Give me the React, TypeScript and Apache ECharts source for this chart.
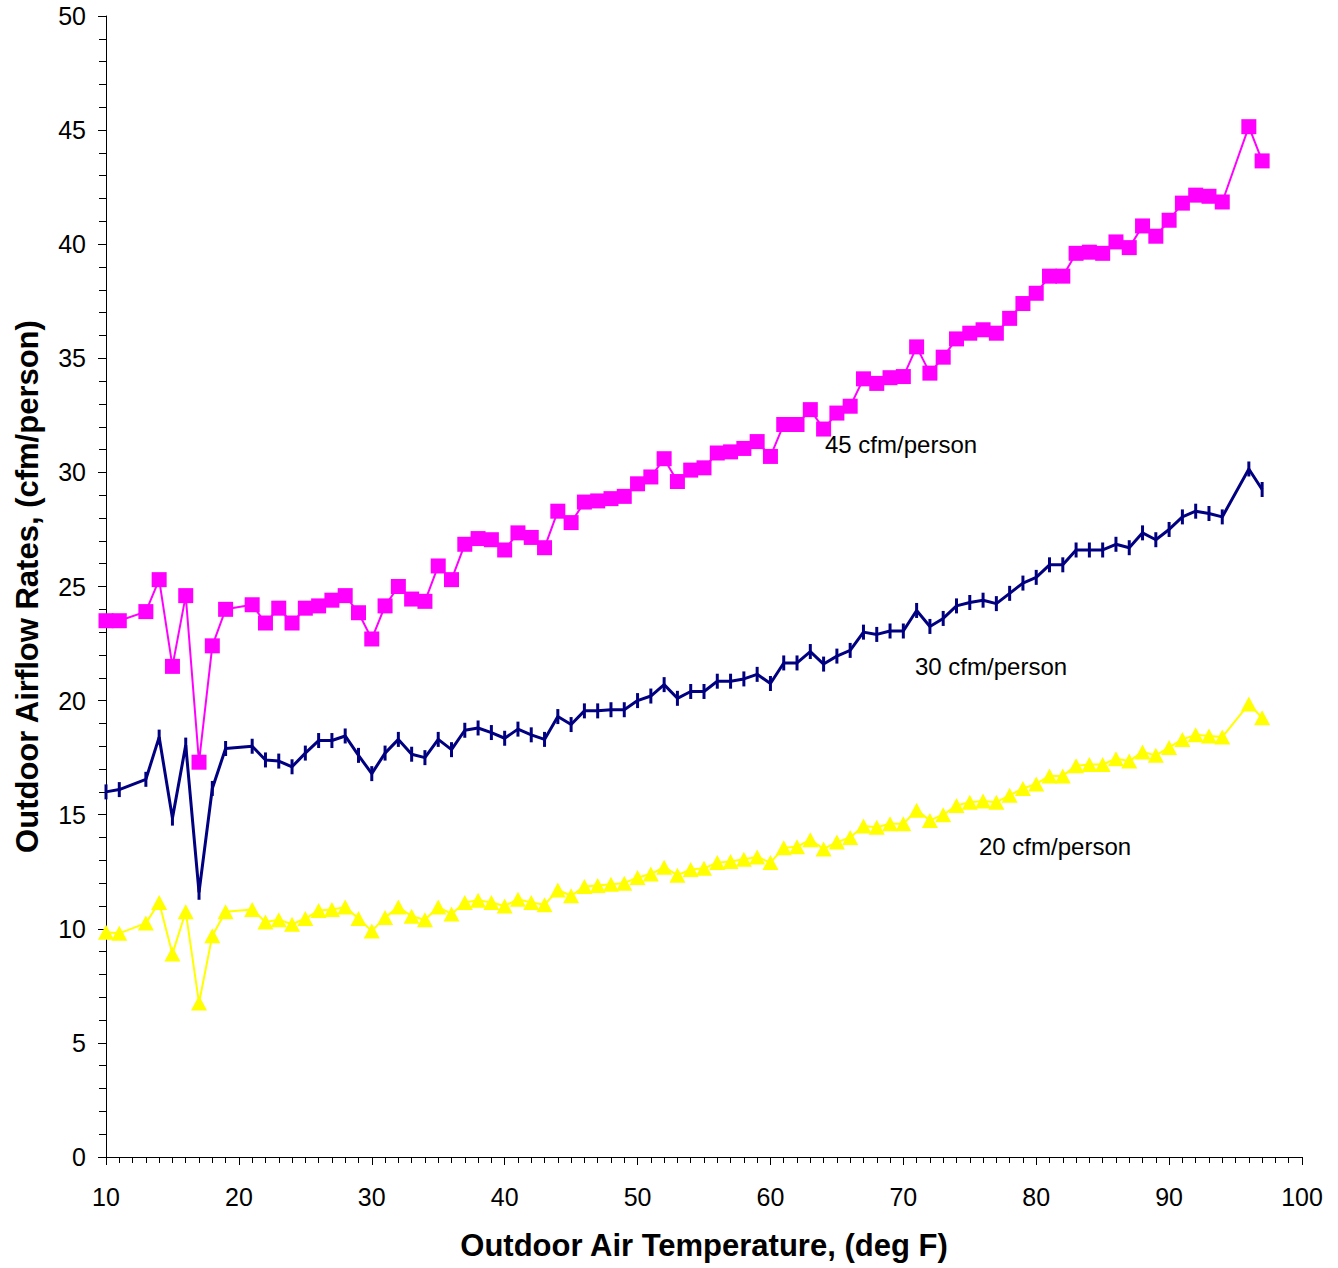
import React, { useEffect, useRef } from "react";
import * as echarts from "echarts";

const temps = [
  10, 11, 13, 14, 15, 16, 17, 18, 19,
  21, 22, 23, 24, 25, 26, 27, 28, 29, 30,
  31, 32, 33, 34, 35, 36, 37, 38, 39, 40,
  41, 42, 43, 44, 45, 46, 47, 48, 49, 50,
  51, 52, 53, 54, 55, 56, 57, 58, 59, 60,
  61, 62, 63, 64, 65, 66, 67, 68, 69, 70,
  71, 72, 73, 74, 75, 76, 77, 78, 79, 80,
  81, 82, 83, 84, 85, 86, 87, 88, 89, 90,
  91, 92, 93, 94, 96, 97,
];

const rate45 = [
  23.5, 23.5, 23.9, 25.3, 21.5, 24.6, 17.3, 22.4, 24.0,
  24.2, 23.4, 24.05, 23.4, 24.05, 24.15, 24.4, 24.6, 23.85, 22.7,
  24.15, 25.0, 24.45, 24.35, 25.9, 25.3, 26.85, 27.1, 27.05, 26.6,
  27.35, 27.15, 26.7, 28.3, 27.8, 28.7, 28.75, 28.85, 28.95, 29.5,
  29.8, 30.6, 29.6, 30.1, 30.2, 30.85, 30.9, 31.05, 31.35, 30.7,
  32.1, 32.1, 32.75, 31.9, 32.6, 32.9, 34.1, 33.9, 34.15, 34.2,
  35.5, 34.35, 35.05, 35.85, 36.1, 36.25, 36.1, 36.75, 37.4, 37.85,
  38.6, 38.6, 39.6, 39.65, 39.6, 40.1, 39.85, 40.8, 40.35, 41.05,
  41.8, 42.15, 42.1, 41.85, 45.15, 43.65,
];

const rate30 = [
  16.0, 16.1, 16.55, 18.4, 14.85, 18.05, 11.6, 16.15, 17.9,
  18.0, 17.4, 17.35, 17.1, 17.7, 18.25, 18.25, 18.45, 17.6, 16.8,
  17.7, 18.3, 17.65, 17.5, 18.3, 17.85, 18.7, 18.8, 18.6, 18.35,
  18.75, 18.5, 18.3, 19.3, 18.95, 19.55, 19.55, 19.6, 19.6, 20.0,
  20.2, 20.7, 20.1, 20.4, 20.4, 20.85, 20.85, 20.95, 21.15, 20.75,
  21.65, 21.65, 22.15, 21.6, 21.95, 22.2, 23.0, 22.9, 23.05, 23.05,
  23.95, 23.25, 23.6, 24.15, 24.3, 24.4, 24.25, 24.7, 25.15, 25.4,
  25.95, 25.95, 26.6, 26.6, 26.6, 26.85, 26.7, 27.35, 27.05, 27.5,
  28.05, 28.3, 28.2, 28.05, 30.15, 29.25,
];

const rate20 = [
  9.85, 9.8, 10.25, 11.15, 8.9, 10.75, 6.75, 9.7, 10.75,
  10.85, 10.3, 10.4, 10.2, 10.45, 10.8, 10.85, 10.95, 10.45, 9.9,
  10.5, 10.95, 10.55, 10.4, 10.95, 10.65, 11.15, 11.25, 11.15, 11.0,
  11.3, 11.15, 11.05, 11.7, 11.45, 11.85, 11.9, 11.95, 12.0, 12.25,
  12.4, 12.7, 12.35, 12.6, 12.65, 12.9, 12.95, 13.05, 13.15, 12.9,
  13.55, 13.6, 13.9, 13.5, 13.8, 14.0, 14.5, 14.45, 14.6, 14.6,
  15.2, 14.75, 15.0, 15.4, 15.55, 15.6, 15.55, 15.85, 16.15, 16.35,
  16.7, 16.7, 17.15, 17.2, 17.2, 17.45, 17.35, 17.75, 17.6, 17.95,
  18.3, 18.5, 18.45, 18.4, 19.85, 19.25,
];

const seriesNames = ["45 cfm/person", "30 cfm/person", "20 cfm/person"];
const xTitle = "Outdoor Air Temperature, (deg F)";
const yTitle = "Outdoor Airflow Rates, (cfm/person)";

const FONT = "'Liberation Sans', Arial, Helvetica, sans-serif";

function pairs(vals: number[]) {
  return temps.map((t, i) => [t, vals[i]]);
}

export default function App() {
  const ref = useRef<HTMLDivElement>(null);

  useEffect(() => {
    if (!ref.current) return;
    const chart = echarts.init(ref.current, undefined, { renderer: "svg" });

    const axisCommon = {
      axisLine: { show: true, lineStyle: { color: "#000", width: 1 } },
      axisTick: { show: true, inside: false, length: 8, lineStyle: { color: "#000", width: 1 } },
      splitLine: { show: false },
      axisLabel: { color: "#000", fontSize: 25, fontFamily: FONT },
      nameTextStyle: { color: "#000", fontSize: 31, fontWeight: "bold", fontFamily: FONT },
    };

    chart.setOption({
      animation: false,
      backgroundColor: "#fff",
      textStyle: { fontFamily: FONT },
      grid: { left: 106, right: 36, top: 16, bottom: 111, containLabel: false },
      xAxis: {
        type: "value",
        min: 10,
        max: 100,
        interval: 10,
        name: xTitle,
        nameLocation: "middle",
        nameGap: 73,
        ...axisCommon,
        axisLabel: { ...axisCommon.axisLabel, margin: 27 },
        minorTick: { show: true, splitNumber: 10, length: 6, lineStyle: { color: "#000", width: 1 } },
      },
      yAxis: {
        type: "value",
        min: 0,
        max: 50,
        interval: 5,
        name: yTitle,
        nameLocation: "middle",
        nameGap: 63,
        nameRotate: 90,
        ...axisCommon,
        axisLabel: { ...axisCommon.axisLabel, margin: 20 },
        minorTick: { show: true, splitNumber: 5, length: 7, lineStyle: { color: "#000", width: 1 } },
      },
      series: [
        {
          name: seriesNames[0],
          type: "line",
          data: pairs(rate45),
          symbol: "rect",
          symbolSize: 15,
          lineStyle: { color: "#FF00FF", width: 2 },
          itemStyle: { color: "#FF00FF" },
        },
        {
          name: seriesNames[1],
          type: "line",
          data: pairs(rate30),
          symbol: "rect",
          symbolSize: [3, 15],
          lineStyle: { color: "#000080", width: 3 },
          itemStyle: { color: "#000080" },
        },
        {
          name: seriesNames[2],
          type: "line",
          data: pairs(rate20),
          symbol: "triangle",
          symbolSize: [16, 15],
          lineStyle: { color: "#FFFF00", width: 2 },
          itemStyle: { color: "#FFFF00" },
        },
      ],
      graphic: [
        { type: "text", left: 825, top: 432, style: { text: seriesNames[0], fontSize: 24, fontFamily: FONT, fill: "#000" } },
        { type: "text", left: 915, top: 654, style: { text: seriesNames[1], fontSize: 24, fontFamily: FONT, fill: "#000" } },
        { type: "text", left: 979, top: 834, style: { text: seriesNames[2], fontSize: 24, fontFamily: FONT, fill: "#000" } },
      ],
    });

    return () => chart.dispose();
  }, []);

  return (
    <div
      ref={ref}
      style={{ position: "absolute", left: 0, top: 0, width: 1338, height: 1268, background: "#fff" }}
    />
  );
}
